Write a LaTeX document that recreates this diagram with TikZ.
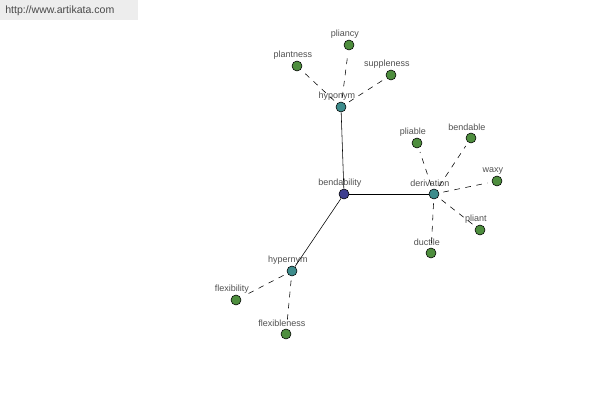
\documentclass[tikz,border=0pt]{standalone}
\usepackage{fontspec}
\setmainfont{Liberation Sans}
\usepackage{xcolor}
\usetikzlibrary{positioning}

\definecolor{hubblue}{HTML}{3F3F8F}
\definecolor{relteal}{HTML}{3D8C8C}
\definecolor{wordgreen}{HTML}{4E8E3E}
\definecolor{lblgray}{HTML}{505050}
\definecolor{markgray}{HTML}{EDEDED}

\begin{document}
\begin{tikzpicture}[
    x=0.025cm, y=-0.025cm,% one unit = one pixel
       dot/.style = {circle, draw=black, thin, minimum size=0.25cm, inner sep=0pt},% nodes style
       hub/.style = {dot, fill=hubblue},
       rel/.style = {dot, fill=relteal},
      word/.style = {dot, fill=wordgreen},
       lbl/.style = {text=lblgray, font=\fontsize{6.4}{7}\selectfont, inner sep=1pt, xshift=-3pt},
      link/.style = {draw=black, thin},
      dlink/.style = {draw=black, thin, dash pattern=on 4pt off 4pt, shorten <=3pt, shorten >=3pt}
    ]
    \useasboundingbox (0,0) rectangle (600,400);
    % watermark
    \fill[markgray] (0,0) rectangle (138,20);
    \node (site) [text=lblgray!90!black, font=\fontsize{7.5}{9}\selectfont, anchor=west, inner sep=0pt] at (5,11) {http://www.artikata.com};
    % hub and relations
    \node (bend) [hub, label={[lbl]above:bendability}] at (344,194) {};
    \node (hypo) [rel, label={[lbl]above:hyponym}] at (341,107) {};
    \node (deri) [rel, label={[lbl]above:derivation}] at (434,194) {};
    \node (hype) [rel, label={[lbl]above:hypernym}] at (292,271) {};
    % words
    \node (plantness)  [word, label={[lbl]above:plantness}]  at (297,66) {};
    \node (pliancy)    [word, label={[lbl]above:pliancy}]    at (349,45) {};
    \node (suppleness) [word, label={[lbl]above:suppleness}] at (391,75) {};
    \node (pliable)    [word, label={[lbl]above:pliable}]    at (417,143) {};
    \node (bendable)   [word, label={[lbl]above:bendable}]   at (471,138) {};
    \node (waxy)       [word, label={[lbl]above:waxy}]       at (497,181) {};
    \node (pliant)     [word, label={[lbl]above:pliant}]     at (480,230) {};
    \node (ductile)    [word, label={[lbl]above:ductile}]    at (431,253) {};
    \node (flexibility)  [word, label={[lbl]above:flexibility}]  at (236,300) {};
    \node (flexibleness) [word, label={[lbl]above:flexibleness}] at (286,334) {};
    % connectors
    \draw[link] (bend) -- (hypo);
    \draw[link] (bend) -- (deri);
    \draw[link] (bend) -- (hype);
    \foreach \w in {plantness, pliancy, suppleness}
        \draw[dlink] (hypo) -- (\w);
    \foreach \w in {pliable, bendable, waxy, pliant, ductile}
        \draw[dlink] (deri) -- (\w);
    \foreach \w in {flexibility, flexibleness}
        \draw[dlink] (hype) -- (\w);
\end{tikzpicture}
\end{document}
